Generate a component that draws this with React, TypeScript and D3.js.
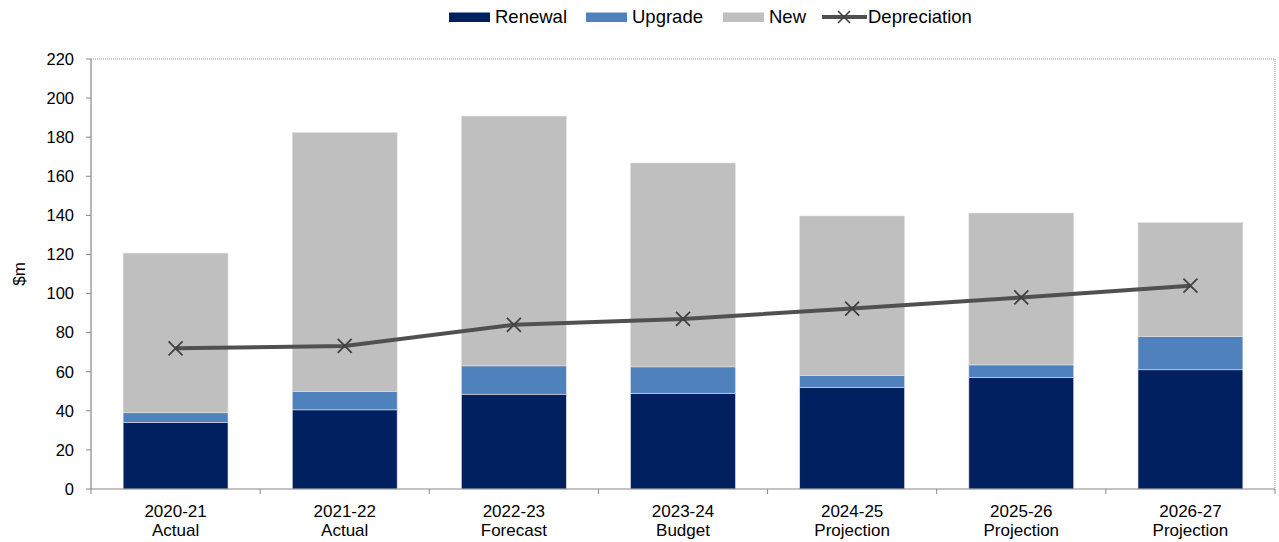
import React from "react";
import * as d3 from "d3";

const categories = ["2020-21|Actual", "2021-22|Actual", "2022-23|Forecast", "2023-24|Budget", "2024-25|Projection", "2025-26|Projection", "2026-27|Projection"];
const renewal = [34, 40.5, 48.5, 49, 52, 57, 61];
const upgrade = [5, 9.5, 14.5, 13.5, 6, 6.5, 17];
const newVals = [81.7, 132.4, 127.8, 104.3, 81.7, 77.7, 58.3];
const depreciation = [72, 73.2, 84, 87, 92.3, 98, 104];
const yTicks = [0, 20, 40, 60, 80, 100, 120, 140, 160, 180, 200, 220];

const seriesNames = ["Renewal", "Upgrade", "New"];
const colors = ["#002060", "#4F81BD", "#BFBFBF"];

export default function App() {
  const W = 1279, H = 542;
  const left = 91, right = 1275, top = 59, bottom = 489;
  const font = "'Liberation Sans', Arial, sans-serif";

  const x = d3.scaleBand<string>().domain(categories).range([left, right]).paddingInner(0.38).paddingOuter(0.19);
  const y = d3.scaleLinear().domain([0, 220]).range([bottom, top]);

  const rows = categories.map((c, i) => ({ cat: c, Renewal: renewal[i], Upgrade: upgrade[i], New: newVals[i] }));
  const stack = d3.stack<any>().keys(seriesNames)(rows);

  const line = d3.line<number>().x((_, i) => (x(categories[i]) as number) + x.bandwidth() / 2).y(d => y(d));

  const step = (right - left) / categories.length;
  const boundaries = d3.range(categories.length + 1).map(i => left + i * step);

  const legendItems = [
    { name: "Renewal", x: 449, color: colors[0], type: "rect" },
    { name: "Upgrade", x: 586, color: colors[1], type: "rect" },
    { name: "New", x: 723, color: colors[2], type: "rect" },
    { name: "Depreciation", x: 822, color: "#505050", type: "line" },
  ];

  return (
    <svg width={W} height={H} style={{ position: "absolute", left: 0, top: 0, fontFamily: font }}>
      <rect width={W} height={H} fill="#fff" />
      {/* plot border top/right */}
      <line x1={left} x2={right} y1={top} y2={top} stroke="#999" strokeDasharray="1,1" strokeWidth={1} />
      <line x1={right} x2={right} y1={top} y2={bottom} stroke="#999" strokeDasharray="1,1" strokeWidth={1} />

      {stack.map((s, si) => (
        <g key={si}>
          {s.map((d: any, i: number) => (
            <rect key={i} x={x(categories[i])} width={x.bandwidth()} y={y(d[1])} height={y(d[0]) - y(d[1])}
              fill={colors[si]} stroke="#e0e0e0" strokeWidth={0.6} />
          ))}
        </g>
      ))}

      {/* axes */}
      <line x1={left} x2={left} y1={top} y2={bottom} stroke="#888" strokeWidth={1.2} />
      <line x1={left} x2={right} y1={bottom} y2={bottom} stroke="#888" strokeWidth={1.2} />
      {yTicks.map(t => (
        <g key={t}>
          <line x1={left - 5} x2={left} y1={y(t)} y2={y(t)} stroke="#888" />
          <text x={left - 17} y={y(t)} dy="0.35em" textAnchor="end" fontSize={16.5} fill="#000">{t}</text>
        </g>
      ))}
      {boundaries.map((b, i) => (
        <line key={i} x1={b} x2={b} y1={bottom} y2={bottom + 5} stroke="#888" />
      ))}
      {categories.map((c, i) => {
        const [a, b] = c.split("|");
        const cx = (x(c) as number) + x.bandwidth() / 2;
        return (
          <text key={i} x={cx} textAnchor="middle" fontSize={17} fill="#000">
            <tspan x={cx} y={516.5}>{a}</tspan>
            <tspan x={cx} y={535.5}>{b}</tspan>
          </text>
        );
      })}
      <text transform={`translate(25,${(top + bottom) / 2}) rotate(-90)`} textAnchor="middle" fontSize={17} fill="#000">$m</text>

      {/* depreciation line */}
      <path d={line(depreciation) || ""} fill="none" stroke="#505050" strokeWidth={4} />
      {depreciation.map((v, i) => {
        const cx = (x(categories[i]) as number) + x.bandwidth() / 2;
        const cy = y(v);
        const r = 7;
        return (
          <g key={i} stroke="#404040" strokeWidth={1.8}>
            <line x1={cx - r} y1={cy - r} x2={cx + r} y2={cy + r} />
            <line x1={cx - r} y1={cy + r} x2={cx + r} y2={cy - r} />
          </g>
        );
      })}

      {/* legend */}
      {legendItems.map((it, i) => (
        <g key={i}>
          {it.type === "rect" ? (
            <rect x={it.x} y={12.5} width={41} height={9.5} fill={it.color} />
          ) : (
            <g>
              <line x1={it.x} x2={it.x + 45} y1={17} y2={17} stroke="#505050" strokeWidth={4} />
              <line x1={it.x + 16} y1={11} x2={it.x + 28} y2={23} stroke="#404040" strokeWidth={1.6} />
              <line x1={it.x + 16} y1={23} x2={it.x + 28} y2={11} stroke="#404040" strokeWidth={1.6} />
            </g>
          )}
          <text x={it.x + (it.type === "rect" ? 46 : 46)} y={22.8} fontSize={18.5} fill="#000">{it.name}</text>
        </g>
      ))}
    </svg>
  );
}
